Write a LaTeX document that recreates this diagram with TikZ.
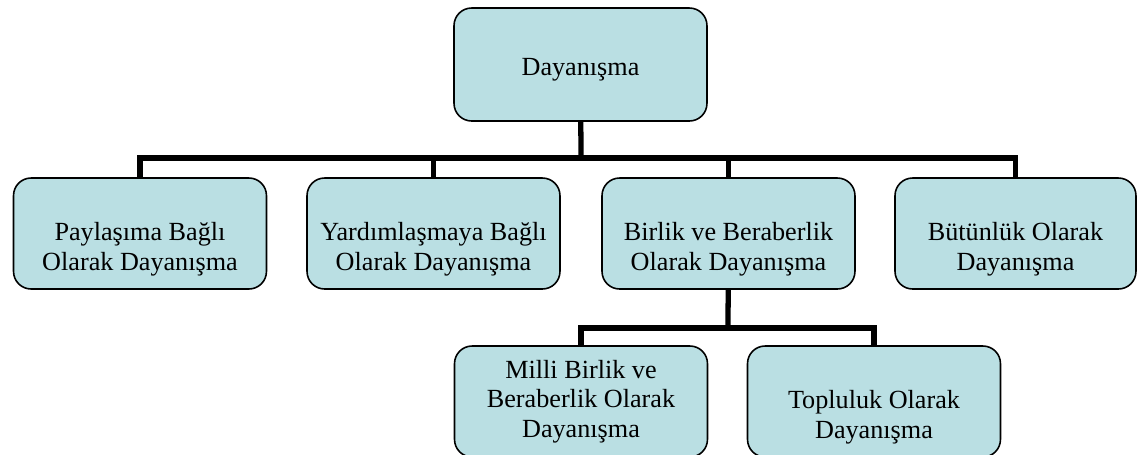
\documentclass[tikz,border=0pt]{standalone}
\usepackage{fontspec}
\setmainfont{Liberation Serif}
\definecolor{kutudolgu}{RGB}{186,223,227}
\begin{document}
\begin{tikzpicture}[x=0.02cm, y=-0.02cm,
        kutu/.style={draw, fill=kutudolgu, rounded corners=10pt, line width=0.9pt,
            align=center, inner sep=0pt, minimum width=5.06cm, minimum height=2.22cm,
            font=\fontsize{14.9}{16.8}\selectfont},
        asagi/.style={text height=45pt},
        hat/.style={line width=3pt}]
        \useasboundingbox (0,0) rectangle (1137,454);

        \node[kutu, minimum height=2.26cm, text height=15.5pt] (d) at (580.5, 64.5) {Dayanışma};

        \node[kutu, asagi] (b1) at (140, 233.5) {Paylaşıma Bağlı\\Olarak Dayanışma};
        \node[kutu, asagi] (b2) at (433.5, 233.5) {Yardımlaşmaya Bağlı\\Olarak Dayanışma};
        \node[kutu, asagi] (b3) at (728.5, 233.5) {Birlik ve Beraberlik\\Olarak Dayanışma};
        \node[kutu, asagi, minimum width=4.82cm] (b4) at (1015.5, 233.5) {Bütünlük Olarak\\Dayanışma};

        \node[kutu] (c1) at (581, 401.5) {Milli Birlik ve\\Beraberlik Olarak\\Dayanışma};
        \node[kutu, asagi] (c2) at (874, 401.5) {Topluluk Olarak\\Dayanışma};

        \coordinate (j1) at (581, 158);
        \coordinate (j2) at (728, 328);

        \draw[hat] (d) -- (j1);
        \draw[hat] (j1) -| (b1);
        \draw[hat] (j1) -| (b2);
        \draw[hat] (j1) -| (b3);
        \draw[hat] (j1) -| (b4);

        \draw[hat] (b3) -- (j2);
        \draw[hat] (j2) -| (c1);
        \draw[hat] (j2) -| (c2);
    \end{tikzpicture}
\end{document}
